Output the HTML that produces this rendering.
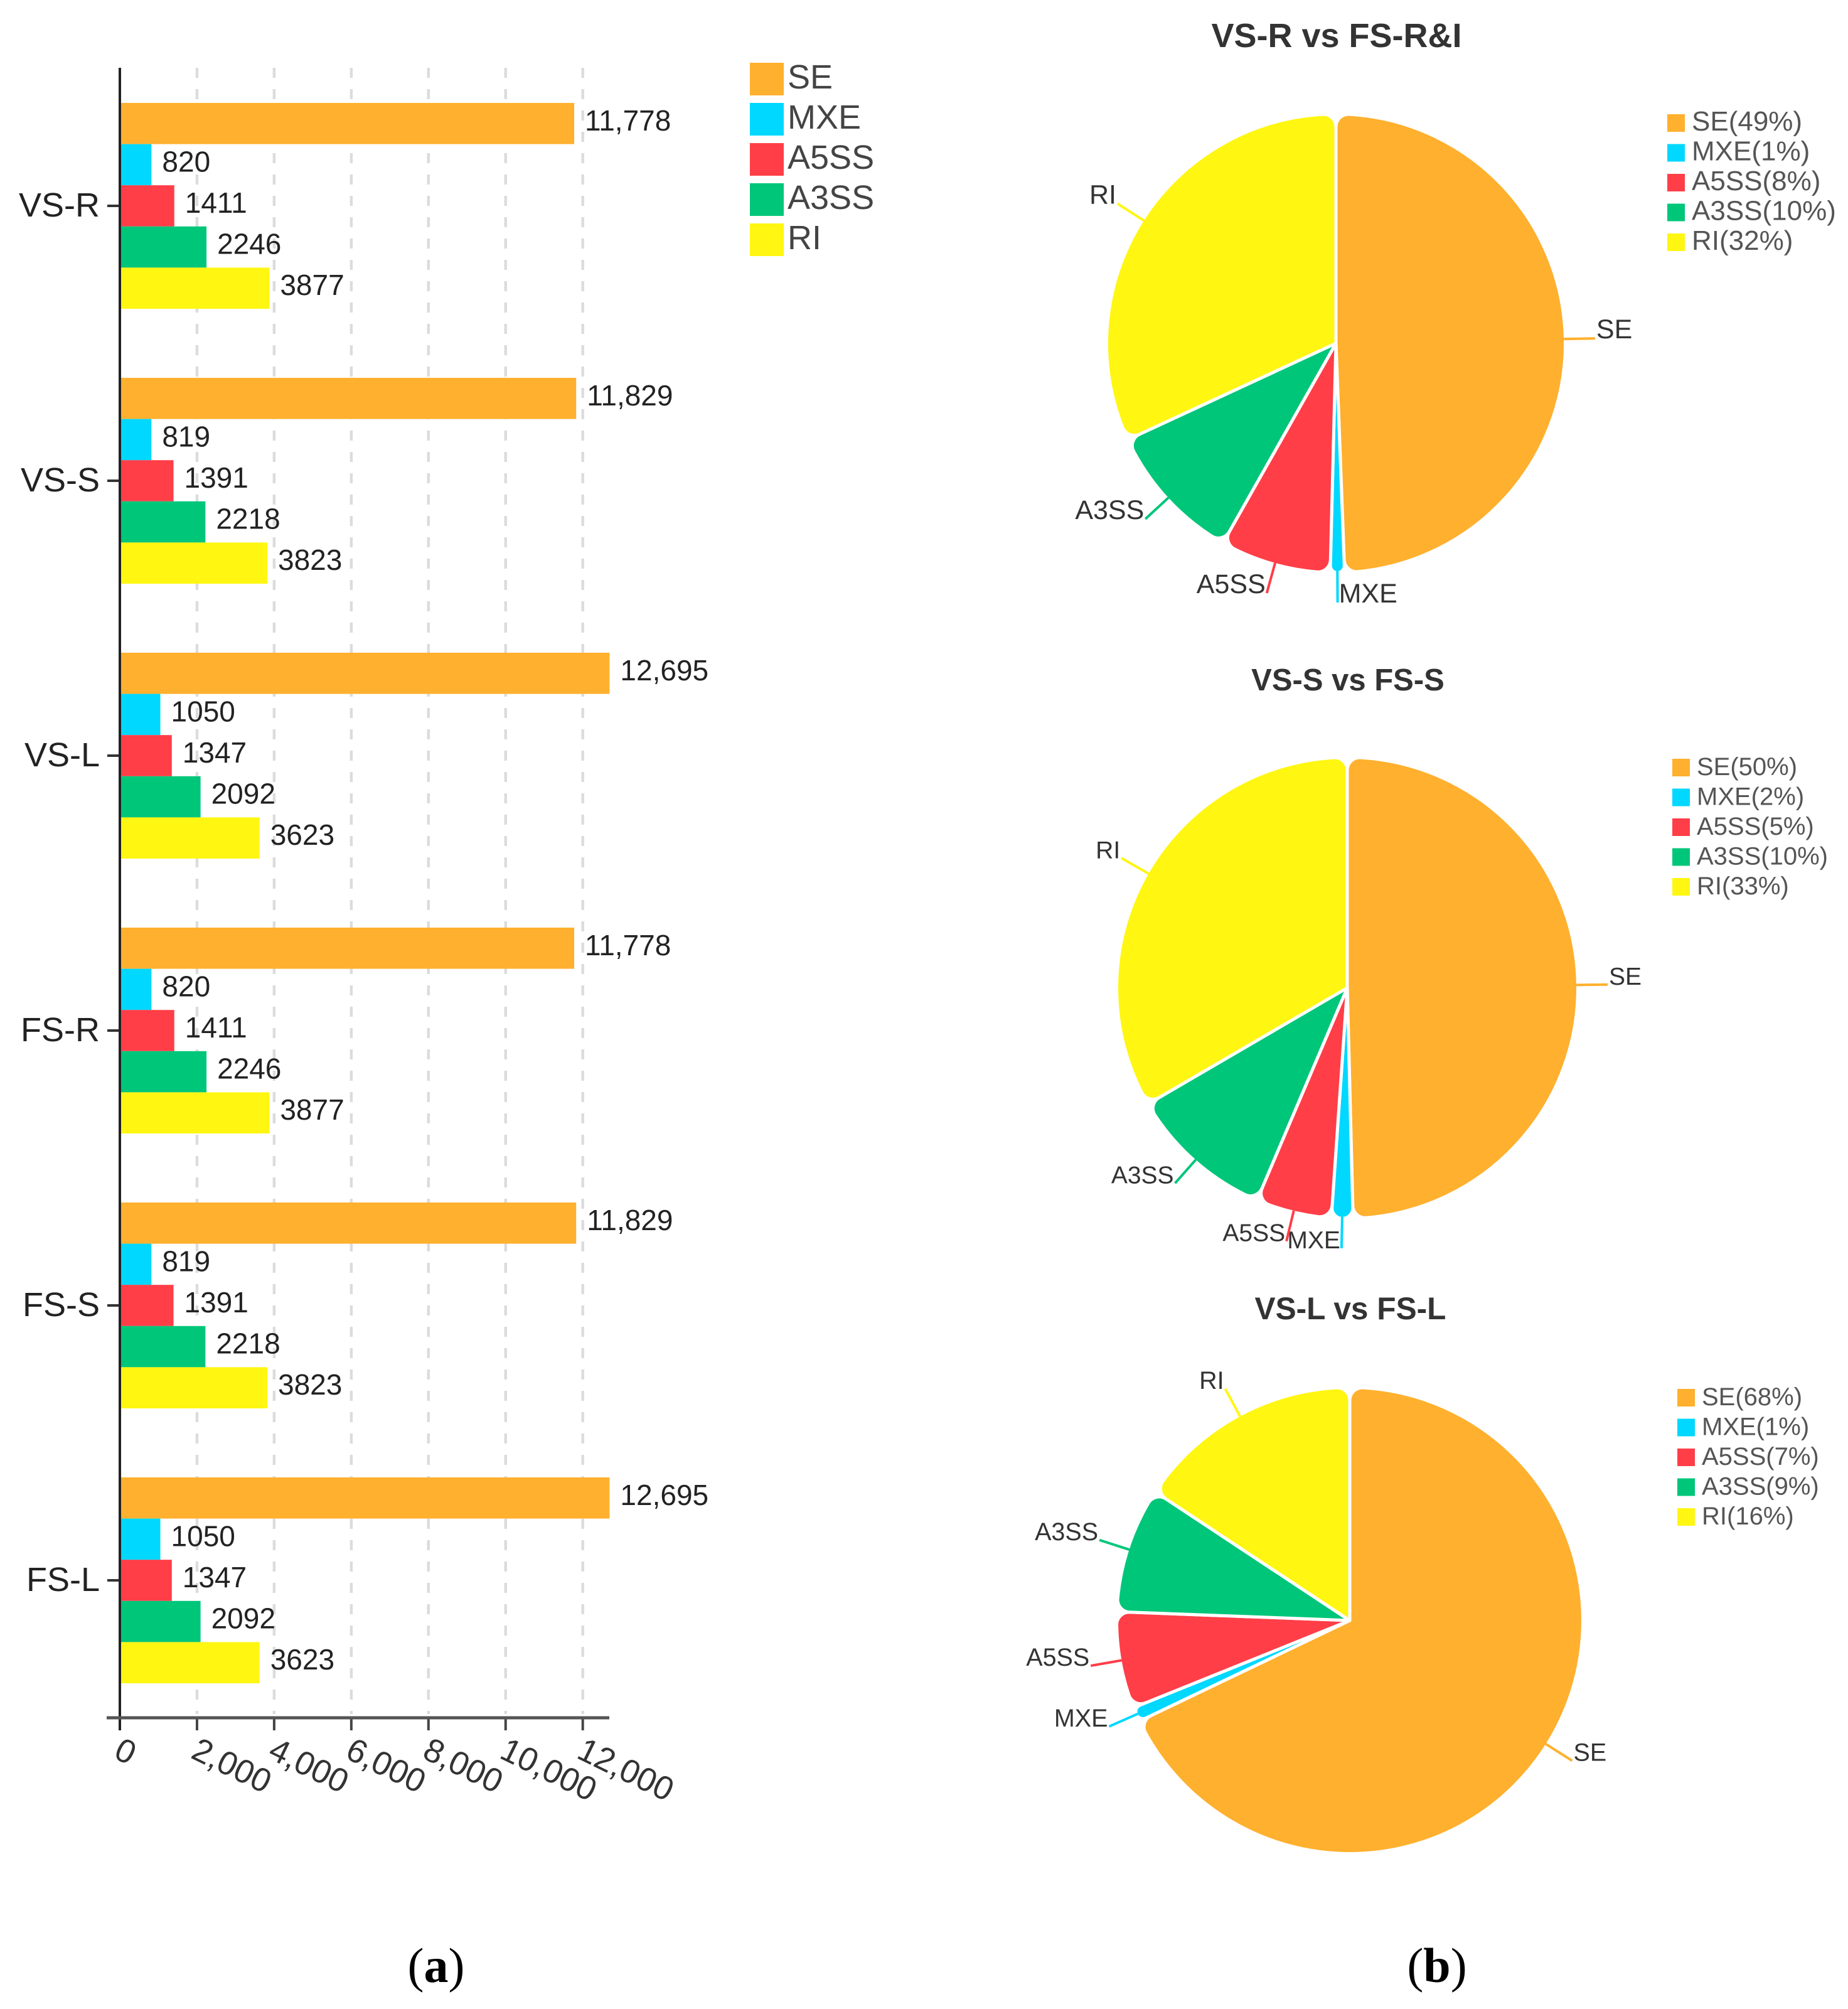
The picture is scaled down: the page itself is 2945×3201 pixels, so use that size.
<!DOCTYPE html>
<html lang="en">
<head>
<meta charset="utf-8">
<title>Alternative splicing events bar and pie charts</title>
<style>
html,body{margin:0;padding:0;background:#fff;}
body{width:2945px;height:3201px;overflow:hidden;}
svg{display:block;}
text{font-family:"Liberation Sans",sans-serif;}
.panel-letter{font-family:"Liberation Serif",serif;font-size:78px;fill:#000;}
</style>
</head>
<body>
<svg id="figure" xmlns="http://www.w3.org/2000/svg" width="2945" height="3201" viewBox="0 0 2945 3201">
  <rect x="0" y="0" width="2945" height="3201" fill="#ffffff"/>
  <g id="grid-layer"></g>
  <g id="bar-layer"></g>
  <g id="axis-layer"></g>
  <g id="bar-legend"></g>
  <g id="pie-layer"></g>
  <text class="panel-letter" x="695" y="3158" text-anchor="middle">(<tspan font-weight="bold">a</tspan>)</text>
  <text class="panel-letter" x="2290" y="3158" text-anchor="middle">(<tspan font-weight="bold">b</tspan>)</text>
</svg>
<script>
// ---- data ----
const seriesNames = ['SE', 'MXE', 'A5SS', 'A3SS', 'RI'];
const seriesColors = ['#ffb02e', '#00d8ff', '#ff3e48', '#00c67a', '#fff612'];
const groupNames = ['VS-R', 'VS-S', 'VS-L', 'FS-R', 'FS-S', 'FS-L'];
const seValues = [11778, 11829, 12695, 11778, 11829, 12695];
const mxeValues = [820, 819, 1050, 820, 819, 1050];
const a5ssValues = [1411, 1391, 1347, 1411, 1391, 1347];
const a3ssValues = [2246, 2218, 2092, 2246, 2218, 2092];
const riValues = [3877, 3823, 3623, 3877, 3823, 3623];
const xTickValues = [0, 2000, 4000, 6000, 8000, 10000, 12000];
const xTickLabels = ['0', '2,000', '4,000', '6,000', '8,000', '10,000', '12,000'];

const pieOneTitle = 'VS-R vs FS-R&I';
const pieOneValues = [49.4, 1, 7.8, 9.9, 31.9];
const pieTwoTitle = 'VS-S vs FS-S';
const pieTwoValues = [49.6, 1.5, 5.3, 10.2, 33.4];
const pieThreeTitle = 'VS-L vs FS-L';
const pieThreeValues = [67.9, 1, 6.7, 8.7, 15.7];

// ---- layout ----
const SVG_NS = 'http://www.w3.org/2000/svg';
const plot = {x0: 191, top: 108, bottom: 2737, unit: 122.95 / 2000, firstBar: 164, barH: 65.6, period: 438};
const xScale = v => plot.x0 + v * plot.unit;
const groupTop = g => plot.firstBar + g * plot.period;
const barTop = (g, s) => groupTop(g) + s * plot.barH;
const allSeries = [seValues, mxeValues, a5ssValues, a3ssValues, riValues];

function make(parent, tag, attrs, txt) {
  const el = document.createElementNS(SVG_NS, tag);
  for (const k in attrs) el.setAttribute(k, attrs[k]);
  if (txt !== undefined) el.textContent = txt;
  parent.appendChild(el);
  return el;
}
function slug(s) {
  return s.toLowerCase().replace(/&/g, '-and-').replace(/[^a-z0-9]+/g, '-');
}
function valueLabel(v) {
  return v >= 10000 ? String(v).replace(/(\d)(\d{3})$/, '$1,$2') : String(v);
}

// ---- bar chart ----
const gridLayer = document.getElementById('grid-layer');
const barLayer = document.getElementById('bar-layer');
const axisLayer = document.getElementById('axis-layer');
const barLegend = document.getElementById('bar-legend');

xTickValues.forEach((v, i) => {
  const tx = xScale(v);
  if (v > 0) {
    const gl = make(gridLayer, 'line', {x1: tx, x2: tx, y1: plot.top, y2: plot.bottom - 6, stroke: '#dcdcdc', 'stroke-width': 4.5, 'stroke-dasharray': '16 18'});
    
    
  }
  const tk = make(axisLayer, 'line', {x1: tx, x2: tx, y1: plot.bottom, y2: plot.bottom + 20, stroke: '#444', 'stroke-width': 4});
  
  
  const lx = tx - 12, ly = 2800;
  const lb = make(axisLayer, 'text', {x: lx, y: ly, 'font-size': 53, fill: '#333', transform: 'rotate(26 ' + lx + ' ' + ly + ')'}, xTickLabels[i]);
  
  
});

groupNames.forEach((name, g) => {
  seriesNames.forEach((sName, s) => {
    const v = allSeries[s][g];
    const y = barTop(g, s);
    const bar = make(barLayer, 'rect', {x: plot.x0, y: y, width: xScale(v) - plot.x0, height: plot.barH, fill: seriesColors[s]});
    
    
    const vl = make(barLayer, 'text', {x: xScale(v) + 17, y: y + plot.barH / 2 + 11, 'font-size': 46, fill: '#222'}, valueLabel(v));
    
    
  });
  const cy = groupTop(g) + plot.barH * 2.5;
  const tick = make(axisLayer, 'line', {x1: 171, x2: plot.x0, y1: cy, y2: cy, stroke: '#333', 'stroke-width': 4});
  
  
  const yl = make(axisLayer, 'text', {x: 159, y: cy + 17, 'font-size': 54, fill: '#222', 'text-anchor': 'end'}, name);
  
  
});

const yAxis = make(axisLayer, 'line', {x1: plot.x0, x2: plot.x0, y1: plot.top, y2: plot.bottom + 20, stroke: '#222', 'stroke-width': 4});


const xAxis = make(axisLayer, 'line', {x1: 170, x2: 971, y1: plot.bottom, y2: plot.bottom, stroke: '#555', 'stroke-width': 5});



seriesNames.forEach((sName, s) => {
  const y = 100 + s * 64;
  const sw = make(barLegend, 'rect', {x: 1195, y: y, width: 54, height: 52, fill: seriesColors[s]});
  
  
  const tx = make(barLegend, 'text', {x: 1255, y: y + 41, 'font-size': 54, fill: '#444'}, sName);
  
  
});

// ---- pie charts ----
const pieLayer = document.getElementById('pie-layer');

function polar(c, r, deg) {
  const a = deg * Math.PI / 180;
  return [c.x + r * Math.sin(a), c.y - r * Math.cos(a)];
}
function sectorPath(c, r, a0, a1, cornerWanted) {
  const spanRad = (a1 - a0) * Math.PI / 180;
  let cr = cornerWanted;
  const maxSin = Math.sin(Math.min(spanRad / 2, Math.PI / 2));
  const maxCr = r * maxSin / (1 + maxSin);
  if (cr > maxCr) cr = maxCr;
  const d = r - cr;
  const deltaDeg = Math.asin(cr / d) * 180 / Math.PI;
  const t = Math.sqrt(d * d - cr * cr);
  const p1 = polar(c, t, a0), p2 = polar(c, r, a0 + deltaDeg), p3 = polar(c, r, a1 - deltaDeg), p4 = polar(c, t, a1);
  const large = (a1 - a0 - 2 * deltaDeg) > 180 ? 1 : 0;
  return 'M' + c.x + ' ' + c.y +
    'L' + p1[0] + ' ' + p1[1] +
    'A' + cr + ' ' + cr + ' 0 0 1 ' + p2[0] + ' ' + p2[1] +
    'A' + r + ' ' + r + ' 0 ' + large + ' 1 ' + p3[0] + ' ' + p3[1] +
    'A' + cr + ' ' + cr + ' 0 0 1 ' + p4[0] + ' ' + p4[1] + 'Z';
}

function drawPie(key, title, values, c, r, titleY, titleSize, labelSize, legendSize, legendX, legendY) {
  const g = make(pieLayer, 'g', {});
  
  
  const tt = make(g, 'text', {x: c.x + 1, y: titleY, 'font-size': titleSize, 'font-weight': 'bold', fill: '#333', 'text-anchor': 'middle'}, title);
  
  
  const total = values.reduce((a, b) => a + b, 0);
  let start = 0;
  values.forEach((v, i) => {
    const end = start + v / total * 360;
    const mid = (start + end) / 2;
    const name = seriesNames[i];
    const slice = make(g, 'path', {d: sectorPath(c, r + 2.5, start, end, 20), fill: seriesColors[i], stroke: '#fff', 'stroke-width': 5, 'stroke-linejoin': 'round'});
    
    
    const pA = polar(c, r, mid), pB = polar(c, r + 50, mid);
    const leader = make(g, 'line', {x1: pA[0], y1: pA[1], x2: pB[0], y2: pB[1], stroke: seriesColors[i], 'stroke-width': 4});
    
    
    const right = mid < 180;
    const lab = make(g, 'text', {x: pB[0] + (right ? 2 : -2), y: pB[1], 'font-size': labelSize, fill: '#333', 'text-anchor': right ? 'start' : 'end'}, name);
    
    
    const ly = legendY + i * 47.5;
    const sw = make(g, 'rect', {x: legendX, y: ly, width: 28, height: 28, fill: seriesColors[i]});
    
    
    const lt = make(g, 'text', {x: legendX + 39, y: ly + 26, 'font-size': legendSize, fill: '#555'}, name + '(' + Math.round(v) + '%)');
    
    
    start = end;
  });
}

drawPie('vs-r', pieOneTitle, pieOneValues, {x: 2129, y: 547}, 363, 75, 54, 43, 44, 2657, 182);
drawPie('vs-s', pieTwoTitle, pieTwoValues, {x: 2147, y: 1574}, 365, 1100, 49, 39, 40, 2665, 1209);
drawPie('vs-l', pieThreeTitle, pieThreeValues, {x: 2151, y: 2582}, 369, 2102, 49.6, 39.5, 40, 2673, 2213);
</script>
</body>
</html>
